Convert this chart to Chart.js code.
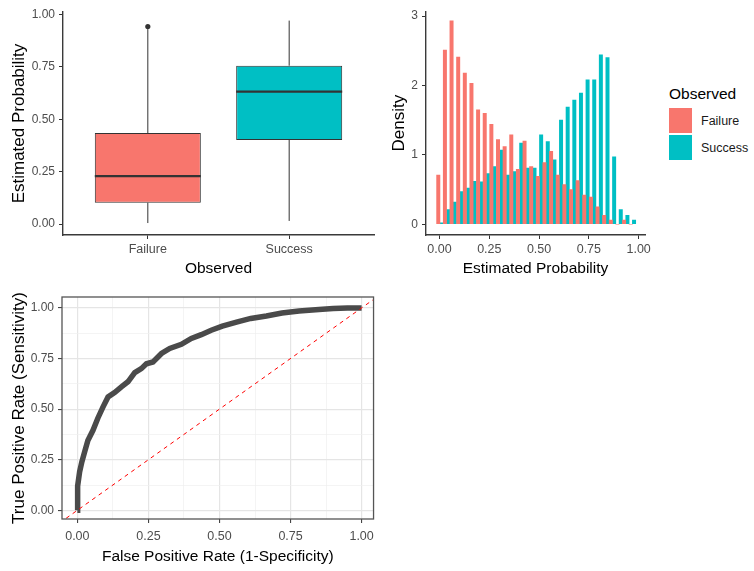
<!DOCTYPE html>
<html lang="en">
<head>
<meta charset="utf-8">
<title>Estimated Probability</title>
<script src="https://cdn.jsdelivr.net/npm/chart.js@4.4.1/dist/chart.umd.min.js"></script>
<style>
    body { margin: 0; background: #fff; }
    #quadro { position: relative; width: 754px; height: 571px; overflow: hidden; font-family: 'Liberation Sans', Arial, sans-serif; }
    canvas { position: absolute; }
    #graficoBoxplot { left: 0; top: 0; }
    #graficoHistograma { left: 380px; top: 0; }
    #graficoRoc { left: 0; top: 285px; }
    #legenda { position: absolute; left: 669px; top: 85px; color: #000; }
    #legenda .titulo { font-size: 15.5px; line-height: 18px; margin-bottom: 5px; }
    #legenda .item { display: flex; align-items: center; height: 25px; margin-bottom: 2px; }
    #legenda .chave { width: 23px; height: 25px; }
    #legenda .rotulo { font-size: 12.5px; margin-left: 9px; color: #1a1a1a; }
</style>
</head>
<body>
<div id="quadro">
    <canvas id="graficoBoxplot" width="380" height="285"></canvas>
    <canvas id="graficoHistograma" width="280" height="285"></canvas>
    <div id="legenda"></div>
    <canvas id="graficoRoc" width="380" height="286"></canvas>
</div>
<script>
Chart.defaults.font.family = "'Liberation Sans', Arial, sans-serif"
Chart.defaults.color = '#4d4d4d'
Chart.defaults.animation = false
Chart.defaults.plugins.legend.display = false

// DADOS
const grupos = ['Failure', 'Success']
const coresGrupos = ['#F8766D', '#00BFC4']

// boxplot - resumo de cada grupo
const bigodeInferior = [0.005, 0.015]
const quartil1 = [0.102, 0.401]
const mediana = [0.229, 0.631]
const quartil3 = [0.434, 0.755]
const bigodeSuperior = [0.93, 0.97]
const outliersFailure = [0.942]

// histograma de densidade - 30 classes
const larguraClasse = 1 / 30
const centrosClasses = Array.from({ length: 30 }, (_, i) => 0.002 + i * larguraClasse)
const densidadeFailure = [0.71, 2.51, 2.93, 2.41, 2.18, 2.03, 1.65, 1.60, 1.44, 1.22,
    1.12, 1.29, 0.79, 1.20, 0.83, 0.69, 0.89, 1.05, 0.71, 0.57,
    0.50, 0.63, 0.42, 0.39, 0.25, 0.13, 0.06, 0, 0.06, 0]
const densidadeSuccess = [0.02, 0.21, 0.32, 0.47, 0.52, 0.62, 0.61, 0.73, 0.83, 1.07,
    0.71, 0.76, 1.17, 0.81, 0.81, 1.29, 1.19, 0.93, 1.50, 1.69,
    1.79, 1.89, 2.08, 2.08, 2.44, 2.40, 0.97, 0.21, 0.13, 0.06]

// curva ROC
const taxaFalsosPositivos = [0, 0, 0.002, 0.008, 0.016, 0.026, 0.037, 0.055, 0.072, 0.09,
    0.108, 0.131, 0.155, 0.178, 0.202, 0.225, 0.243, 0.266, 0.296, 0.325,
    0.366, 0.401, 0.436, 0.471, 0.51, 0.56, 0.61, 0.665, 0.72, 0.78,
    0.85, 0.9, 0.95, 1]
const taxaVerdadeirosPositivos = [0, 0.02, 0.12, 0.19, 0.24, 0.29, 0.345, 0.395, 0.455, 0.51,
    0.56, 0.582, 0.61, 0.635, 0.68, 0.70, 0.724, 0.733, 0.775, 0.80,
    0.82, 0.849, 0.868, 0.89, 0.91, 0.93, 0.948, 0.96, 0.975, 0.985,
    0.992, 0.997, 1.0, 1.0]
const linhaReferencia = [-0.2, 1.2]

// ticks dos eixos
const ticksProbabilidade = [0, 0.25, 0.5, 0.75, 1]
const ticksDensidade = [0, 1, 2, 3]
const ticksRoc = [0, 0.125, 0.25, 0.375, 0.5, 0.625, 0.75, 0.875, 1]


const corEixo = '#333333'
const corLinhaEixo = '#3a3a3a'

function ticksFixos(valores) {
    return scale => { scale.ticks = valores.map(v => ({ value: v })) }
}

function tituloEixo(texto, tamanho, padding) {
    return { display: true, text: texto, color: '#000', font: { size: tamanho }, padding: padding }
}



// BOXPLOT
const desenhaBigodes = {
    id: 'desenhaBigodes',
    afterDatasetsDraw(chart) {
        const { ctx } = chart
        const y = chart.scales.y
        const caixas = chart.getDatasetMeta(0).data
        ctx.save()
        ctx.strokeStyle = corEixo
        caixas.forEach((caixa, i) => {
            const metade = caixa.width / 2
            ctx.lineWidth = 1
            ctx.beginPath()
            ctx.moveTo(caixa.x, y.getPixelForValue(quartil3[i]))
            ctx.lineTo(caixa.x, y.getPixelForValue(bigodeSuperior[i]))
            ctx.moveTo(caixa.x, y.getPixelForValue(quartil1[i]))
            ctx.lineTo(caixa.x, y.getPixelForValue(bigodeInferior[i]))
            ctx.stroke()

            ctx.lineWidth = 2.2
            ctx.beginPath()
            ctx.moveTo(caixa.x - metade, y.getPixelForValue(mediana[i]))
            ctx.lineTo(caixa.x + metade, y.getPixelForValue(mediana[i]))
            ctx.stroke()
        })
        ctx.restore()
    }
}

new Chart(document.getElementById('graficoBoxplot'), {
    type: 'bar',
    data: {
        datasets: [{
            label: 'Estimated Probability',
            data: grupos.map((g, i) => ({ x: i + 1, y: [quartil1[i], quartil3[i]] })),
            backgroundColor: coresGrupos,
            borderColor: corEixo,
            borderWidth: 1,
            borderSkipped: false,
            barPercentage: 0.75,
            categoryPercentage: 1
        }, {
            type: 'scatter',
            label: 'Outliers',
            data: outliersFailure.map(v => ({ x: 1, y: v })),
            pointRadius: 2.6,
            backgroundColor: corEixo,
            borderWidth: 0
        }]
    },
    options: {
        responsive: false,
        layout: { padding: { top: 12, right: 6, left: 0, bottom: 0 } },
        scales: {
            x: {
                type: 'linear',
                min: 0.4,
                max: 2.6,
                offset: false,
                afterBuildTicks: ticksFixos([1, 2]),
                afterFit: scale => { scale.height = 50 },
                ticks: { callback: v => grupos[v - 1], padding: 3, font: { size: 12.5 }, maxRotation: 0, autoSkip: false },
                grid: { drawOnChartArea: false, tickLength: 4, color: corEixo, offset: false },
                border: { color: corLinhaEixo, width: 1.4 },
                title: tituloEixo('Observed', 15.5, { top: 0, bottom: 7 })
            },
            y: {
                min: -0.052,
                max: 1.011,
                afterBuildTicks: ticksFixos(ticksProbabilidade),
                afterFit: scale => { scale.width = 63 },
                ticks: { callback: v => v.toFixed(2), padding: 4, font: { size: 12 }, autoSkip: false },
                grid: { drawOnChartArea: false, tickLength: 4, color: corEixo },
                border: { color: corLinhaEixo, width: 1.4 },
                title: tituloEixo('Estimated Probability', 17, { top: 9, bottom: 0 })
            }
        }
    },
    plugins: [desenhaBigodes]
})



// HISTOGRAMA
const legendaHtml = {
    id: 'legendaHtml',
    afterUpdate(chart) {
        const caixa = document.getElementById('legenda')
        caixa.innerHTML = '<div class="titulo">Observed</div>'
        const itens = chart.options.plugins.legend.labels.generateLabels(chart)
        itens.forEach(item => {
            const linha = document.createElement('div')
            linha.className = 'item'
            linha.innerHTML = `<span class="chave" style="background:${item.fillStyle}"></span><span class="rotulo">${item.text}</span>`
            caixa.appendChild(linha)
        })
    }
}

new Chart(document.getElementById('graficoHistograma'), {
    type: 'bar',
    data: {
        datasets: [{
            label: grupos[0],
            data: centrosClasses.map((c, i) => ({ x: c, y: densidadeFailure[i] })),
            backgroundColor: coresGrupos[0],
            barPercentage: 1,
            categoryPercentage: 1
        }, {
            label: grupos[1],
            data: centrosClasses.map((c, i) => ({ x: c, y: densidadeSuccess[i] })),
            backgroundColor: coresGrupos[1],
            barPercentage: 1,
            categoryPercentage: 1
        }]
    },
    options: {
        responsive: false,
        layout: { padding: { top: 11, right: 15, left: 0, bottom: 0 } },
        scales: {
            x: {
                type: 'linear',
                min: -0.068,
                max: 1.032,
                offset: false,
                afterBuildTicks: ticksFixos(ticksProbabilidade),
                afterFit: scale => { scale.height = 50 },
                ticks: { callback: v => v.toFixed(2), padding: 3, font: { size: 12.5 }, maxRotation: 0, autoSkip: false },
                grid: { drawOnChartArea: false, tickLength: 4, color: corEixo, offset: false },
                border: { color: corLinhaEixo, width: 1.4 },
                title: tituloEixo('Estimated Probability', 15.5, { top: 0, bottom: 7 })
            },
            y: {
                min: -0.155,
                max: 3.07,
                afterBuildTicks: ticksFixos(ticksDensidade),
                afterFit: scale => { scale.width = 46 },
                ticks: { callback: v => String(v), padding: 4, font: { size: 12 }, autoSkip: false },
                grid: { drawOnChartArea: false, tickLength: 4, color: corEixo },
                border: { color: corLinhaEixo, width: 1.4 },
                title: tituloEixo('Density', 17, { top: 9, bottom: 0 })
            }
        }
    },
    plugins: [legendaHtml]
})



// CURVA ROC
const bordaPainel = {
    id: 'bordaPainel',
    afterDraw(chart) {
        const { ctx, chartArea: a } = chart
        ctx.save()
        ctx.strokeStyle = '#555555'
        ctx.lineWidth = 1.3
        ctx.strokeRect(a.left, a.top, a.right - a.left, a.bottom - a.top)
        ctx.restore()
    }
}

const ehPrincipal = v => (v * 4) % 1 === 0

function eixoRoc(min, max) {
    return {
        type: 'linear',
        min: min,
        max: max,
        afterBuildTicks: ticksFixos(ticksRoc),
        ticks: { callback: v => ehPrincipal(v) ? v.toFixed(2) : '', autoSkip: false, maxRotation: 0 },
        grid: {
            tickLength: 4,
            color: ctx => ctx.tick && ehPrincipal(ctx.tick.value) ? '#e5e5e5' : '#efefef',
            lineWidth: ctx => ctx.tick && ehPrincipal(ctx.tick.value) ? 1.2 : 0.7,
            tickColor: ctx => ctx.tick && ehPrincipal(ctx.tick.value) ? corEixo : 'rgba(0,0,0,0)',
            tickWidth: 1
        },
        border: { display: false }
    }
}

const eixoXRoc = eixoRoc(-0.054, 1.042)
eixoXRoc.afterFit = scale => { scale.height = 52 }
eixoXRoc.ticks.padding = 6
eixoXRoc.ticks.font = { size: 12.5 }
eixoXRoc.title = tituloEixo('False Positive Rate (1-Specificity)', 15.5, { top: 0, bottom: 5 })

const eixoYRoc = eixoRoc(-0.043, 1.054)
eixoYRoc.afterFit = scale => { scale.width = 62 }
eixoYRoc.ticks.padding = 4
eixoYRoc.ticks.font = { size: 12 }
eixoYRoc.title = tituloEixo('True Positive Rate (Sensitivity)', 17, { top: 9, bottom: 0 })

new Chart(document.getElementById('graficoRoc'), {
    type: 'line',
    data: {
        datasets: [{
            label: 'Reference',
            data: linhaReferencia.map(v => ({ x: v, y: v })),
            borderColor: '#ff0000',
            borderWidth: 1,
            borderDash: [4, 4],
            pointRadius: 0
        }, {
            label: 'ROC',
            data: taxaFalsosPositivos.map((fp, i) => ({ x: fp, y: taxaVerdadeirosPositivos[i] })),
            borderColor: '#4a4a4a',
            borderWidth: 5.5,
            borderCapStyle: 'butt',
            borderJoinStyle: 'miter',
            pointRadius: 0,
            tension: 0
        }]
    },
    options: {
        responsive: false,
        layout: { padding: { top: 12, right: 6, left: 0, bottom: 0 } },
        scales: { x: eixoXRoc, y: eixoYRoc }
    },
    plugins: [bordaPainel]
})
</script>
</body>
</html>
